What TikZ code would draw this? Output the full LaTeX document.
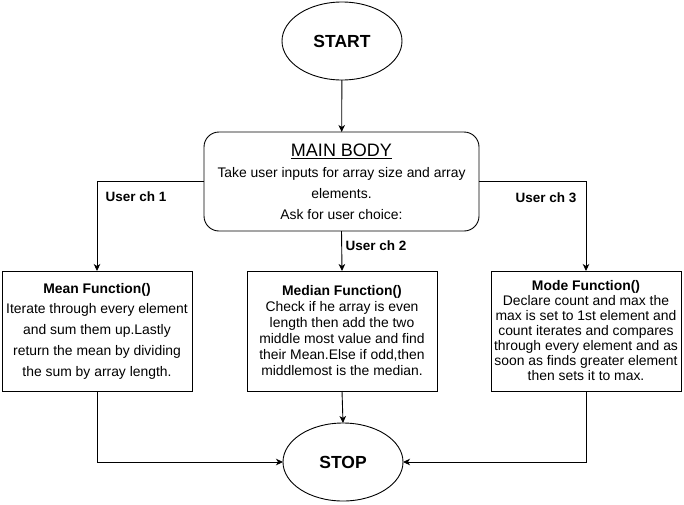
\documentclass[tikz,border=0pt]{standalone}
\usepackage{fontspec}
\setmainfont{Liberation Sans}
\usetikzlibrary{shapes.geometric,arrows.meta}
\tikzset{
  every node/.style={inner sep=0pt, outer sep=0pt},
  oval/.style={ellipse, draw, line width=0.9pt, minimum width=120pt, minimum height=78pt,
     font=\fontsize{17.5}{20}\selectfont\bfseries},
  mainbox/.style={draw, line width=0.9pt, rounded corners=15pt, minimum width=275pt, minimum height=99pt, align=center},
  funcbox/.style={draw, line width=0.9pt, minimum width=190pt, minimum height=120pt, align=center},
  lbl/.style={font=\fontsize{13.5}{16}\selectfont\bfseries},
  arr/.style={line width=0.9pt, -{Stealth[length=7pt,width=6.5pt,inset=2pt]}}
}
\begin{document}
\begin{tikzpicture}[x=1pt,y=-1pt]
\useasboundingbox (0,0) rectangle (684,504);
\node[oval] (start) at (342,41) {START};
\node[mainbox, font=\fontsize{13.9}{21}\selectfont] (main) at (341.5,181.5)
  {{\fontsize{18}{21}\selectfont\underline{MAIN BODY}}\\[0pt]
   Take user inputs for array size and array\\ elements.\\ Ask for user choice:};
\node[funcbox, font=\fontsize{13.9}{20.7}\selectfont] (mean) at (97,331)
  {\textbf{Mean Function()}\\ Iterate through every element\\ and sum them up.Lastly\\ return the mean by dividing\\ the sum by array length.};
\node[funcbox, font=\fontsize{13.9}{16}\selectfont] (median) at (342,331)
  {\textbf{Median Function()}\\ Check if he array is even\\ length then add the two\\ middle most value and find\\ their Mean.Else if odd,then\\ middlemost is the median.};
\node[funcbox, font=\fontsize{13.9}{15}\selectfont] (mode) at (586,331)
  {\textbf{Mode Function()}\\ Declare count and max the\\ max is set to 1st element and\\ count iterates and compares\\ through every element and as\\ soon as finds greater element\\ then sets it to max.};
\node[oval] (stop) at (343,462) {STOP};
\node[lbl] (l1) at (136,197) {User ch 1};
\node[lbl] (l2) at (376,246) {User ch 2};
\node[lbl] (l3) at (546,198) {User ch 3};
\draw[arr] (start) -- (main);
\draw[arr] (main.west) -| (mean.north);
\draw[arr] (main.south) -- (median.north);
\draw[arr] (main.east) -| (mode.north);
\draw[arr] (mean.south) |- (stop.west);
\draw[arr] (median.south) -- (stop.north);
\draw[arr] (mode.south) |- (stop.east);
\end{tikzpicture}
\end{document}
